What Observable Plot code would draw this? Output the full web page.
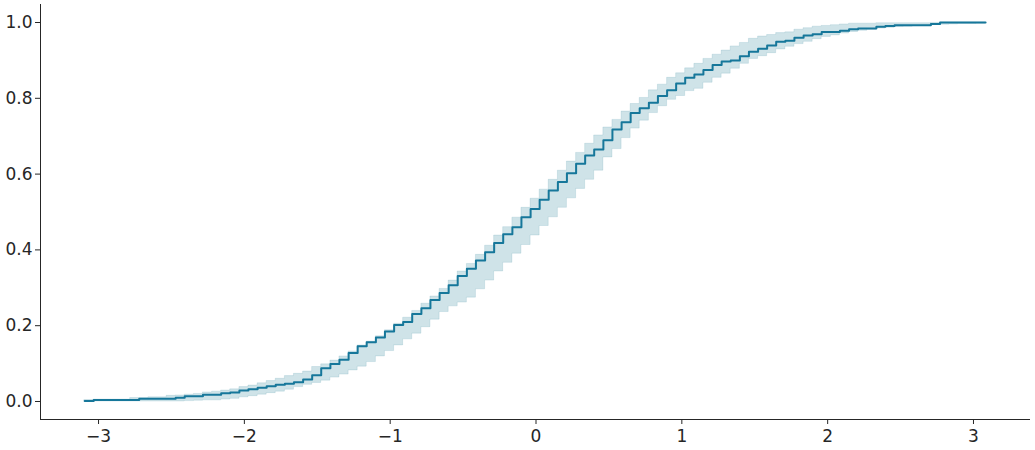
<!DOCTYPE html>
<html>
<head>
<meta charset="utf-8">
<script src="https://cdn.jsdelivr.net/npm/d3@7"></script>
<script src="https://cdn.jsdelivr.net/npm/@observablehq/plot@0.6"></script>
<style>
  html, body { margin: 0; padding: 0; background: #fff; }
  #chart { width: 1035px; height: 450px; }
  #chart svg { color: #262626; background: #fff; }
  #chart svg text { font-size: 17px !important; font-family: "DejaVu Sans" !important; }
</style>
</head>
<body>
<div id="chart"></div>
<script>
// Evaluation grid (x positions of the steps)
const xs = [
  -3.095, -3.033, -2.970, -2.908, -2.845, -2.783, -2.721, -2.658, -2.596, -2.533,
  -2.471, -2.409, -2.346, -2.284, -2.221, -2.159, -2.097, -2.034, -1.972, -1.909,
  -1.847, -1.785, -1.722, -1.660, -1.597, -1.535, -1.473, -1.410, -1.348, -1.285,
  -1.223, -1.161, -1.098, -1.036, -0.973, -0.911, -0.849, -0.786, -0.724, -0.661,
  -0.599, -0.537, -0.474, -0.412, -0.349, -0.287, -0.225, -0.162, -0.100, -0.037,
   0.025,  0.087,  0.150,  0.212,  0.275,  0.337,  0.399,  0.462,  0.524,  0.587,
   0.649,  0.711,  0.774,  0.836,  0.899,  0.961,  1.023,  1.086,  1.148,  1.211,
   1.273,  1.335,  1.398,  1.460,  1.523,  1.585,  1.647,  1.710,  1.772,  1.835,
   1.897,  1.959,  2.022,  2.084,  2.147,  2.209,  2.271,  2.334,  2.396,  2.459,
   2.521,  2.583,  2.646,  2.708,  2.771,  2.833,  2.895,  2.958,  3.020,  3.083
];

// Empirical CDF values
const ecdf = [
  0.001, 0.004, 0.004, 0.004, 0.004, 0.004, 0.007, 0.007, 0.007, 0.007,
  0.010, 0.014, 0.014, 0.018, 0.018, 0.022, 0.024, 0.029, 0.032, 0.036,
  0.040, 0.044, 0.047, 0.051, 0.058, 0.069, 0.088, 0.099, 0.110, 0.128,
  0.146, 0.156, 0.169, 0.185, 0.202, 0.210, 0.231, 0.246, 0.268, 0.286,
  0.307, 0.331, 0.350, 0.372, 0.394, 0.418, 0.441, 0.460, 0.486, 0.508,
  0.532, 0.557, 0.579, 0.602, 0.627, 0.649, 0.665, 0.689, 0.718, 0.737,
  0.761, 0.774, 0.788, 0.806, 0.821, 0.839, 0.854, 0.863, 0.875, 0.888,
  0.897, 0.900, 0.911, 0.923, 0.931, 0.939, 0.949, 0.952, 0.960, 0.966,
  0.969, 0.975, 0.975, 0.978, 0.982, 0.984, 0.984, 0.989, 0.991, 0.993,
  0.993, 0.993, 0.993, 0.996, 1.000, 1.000, 1.000, 1.000, 1.000, 1.000
];

// Confidence band: lower edge
const lower = [
  0.000, 0.000, 0.000, 0.000, 0.000, 0.000, 0.000, 0.000, 0.000, 0.000,
  0.000, 0.001, 0.002, 0.003, 0.003, 0.005, 0.007, 0.011, 0.014, 0.018,
  0.022, 0.026, 0.031, 0.038, 0.044, 0.049, 0.055, 0.063, 0.071, 0.082,
  0.092, 0.104, 0.119, 0.133, 0.148, 0.164, 0.179, 0.196, 0.216, 0.236,
  0.251, 0.261, 0.274, 0.296, 0.319, 0.343, 0.366, 0.390, 0.413, 0.438,
  0.463, 0.486, 0.511, 0.536, 0.561, 0.585, 0.609, 0.644, 0.666, 0.695,
  0.720, 0.741, 0.761, 0.779, 0.796, 0.806, 0.819, 0.825, 0.841, 0.854,
  0.865, 0.878, 0.891, 0.904, 0.911, 0.919, 0.929, 0.936, 0.943, 0.949,
  0.956, 0.962, 0.966, 0.971, 0.975, 0.978, 0.981, 0.984, 0.986, 0.988,
  0.989, 0.991, 0.992, 0.994, 0.994, 0.995, 0.996, 0.996, 0.997, 0.997
];

// Confidence band: upper edge
const upper = [
  0.004, 0.005, 0.005, 0.005, 0.005, 0.009, 0.009, 0.011, 0.011, 0.015,
  0.016, 0.018, 0.020, 0.024, 0.026, 0.029, 0.032, 0.038, 0.042, 0.048,
  0.054, 0.060, 0.067, 0.073, 0.079, 0.091, 0.098, 0.108, 0.119, 0.132,
  0.148, 0.158, 0.172, 0.188, 0.205, 0.221, 0.239, 0.258, 0.277, 0.297,
  0.319, 0.343, 0.363, 0.387, 0.411, 0.438, 0.460, 0.485, 0.511, 0.535,
  0.559, 0.585, 0.609, 0.633, 0.656, 0.680, 0.702, 0.723, 0.743, 0.765,
  0.785, 0.801, 0.821, 0.836, 0.854, 0.866, 0.879, 0.891, 0.904, 0.915,
  0.926, 0.937, 0.946, 0.957, 0.963, 0.967, 0.972, 0.974, 0.981, 0.985,
  0.989, 0.991, 0.993, 0.995, 0.997, 0.997, 0.997, 0.998, 0.998, 0.998,
  0.998, 0.998, 0.998, 0.999, 1.000, 1.000, 1.000, 1.000, 1.000, 1.000
];

const xTicks = [-3, -2, -1, 0, 1, 2, 3];
const yTicks = [0, 0.2, 0.4, 0.6, 0.8, 1.0];

const data = xs.map((x, i) => ({x, y: ecdf[i], lo: lower[i], hi: upper[i]}));

const xDomain = [-3.398, 3.391];
const yDomain = [-0.0475, 1.0475];
const ink = "#262626";
const teal = "#0f718e";

const chart = Plot.plot({
  width: 1035,
  height: 450,
  marginLeft: 40,
  marginRight: 5,
  marginTop: 4,
  marginBottom: 31,
  x: {domain: xDomain, label: null},
  y: {domain: yDomain, label: null},
  marks: [
    Plot.areaY(data, {x: "x", y1: "lo", y2: "hi", curve: "step-after",
      fill: teal, fillOpacity: 0.2, stroke: teal, strokeOpacity: 0.12, strokeWidth: 1}),
    Plot.lineY(data, {x: "x", y: "y", curve: "step-after", stroke: "#16779a", strokeWidth: 2}),
    Plot.ruleX([xDomain[0]], {y1: yDomain[0], y2: yDomain[1], stroke: ink, strokeWidth: 1}),
    Plot.ruleY([yDomain[0]], {x1: xDomain[0], x2: xDomain[1], stroke: ink, strokeWidth: 1}),
    Plot.axisX({ticks: xTicks, tickSize: 5, tickPadding: 5, tickFormat: d3.format("d"), label: null}),
    Plot.axisY({ticks: yTicks, tickSize: 5, tickPadding: 3, tickFormat: d3.format(".1f"), label: null})
  ]
});
document.getElementById("chart").appendChild(chart);
</script>
</body>
</html>
